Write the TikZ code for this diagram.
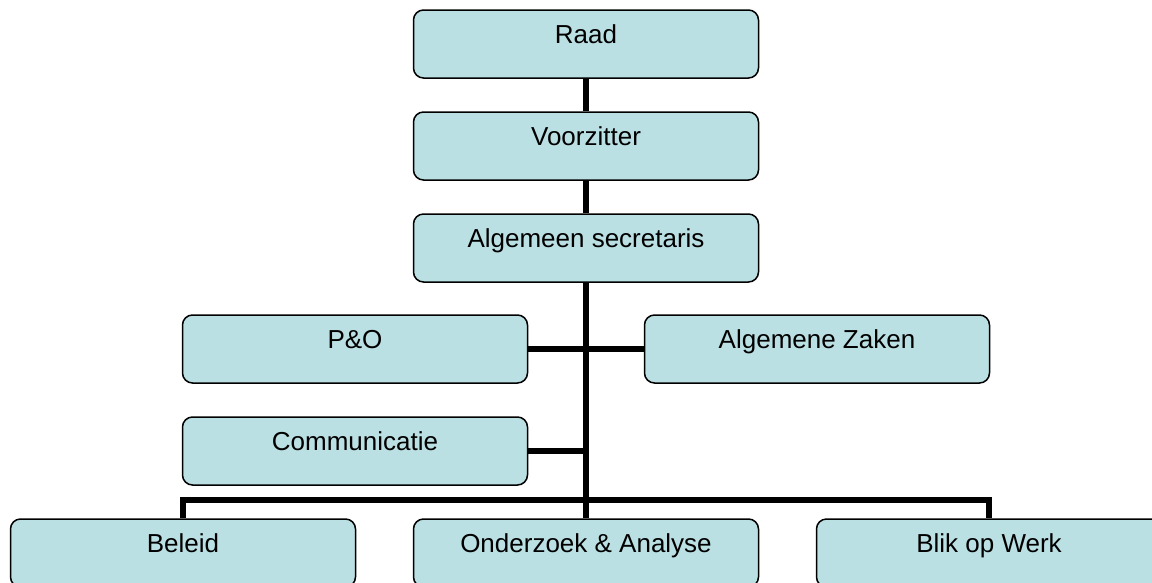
\documentclass[tikz,border=0pt]{standalone}
\usepackage{fontspec}
\setmainfont{Liberation Sans}
\definecolor{boxblue}{RGB}{187,224,228}
\begin{document}
\begin{tikzpicture}[x=1pt,y=1pt,
    unit/.style={draw,rectangle,rounded corners=10pt,fill=boxblue,line width=1.5pt,
      minimum width=345pt,inner sep=0pt,text height=33pt,text depth=35pt,
      font=\fontsize{26}{30}\selectfont},
    link/.style={line width=6pt}]
  \useasboundingbox (0,0) rectangle (1152,-582);
  \node[unit] (raad) at (586,-44) {Raad};
  \node[unit,below of=raad,node distance=102pt] (vz) {Voorzitter};
  \node[unit,below of=vz,node distance=102pt] (sec) {Algemeen secretaris};
  \node[unit] (po) at (355,-349) {P\&O};
  \node[unit,right of=po,node distance=462pt] (az) {Algemene Zaken};
  \node[unit,below of=po,node distance=102pt] (comm) {Communicatie};
  \node[unit,below of=sec,node distance=305pt] (oa) {Onderzoek \& Analyse};
  \node[unit,left of=oa,node distance=403pt] (bel) {Beleid};
  \node[unit,right of=oa,node distance=403pt] (bow) {Blik op Werk};
  \coordinate (bus) at (586,-500);
  \draw[link] (raad) to (vz);
  \draw[link] (vz) to (sec);
  \draw[link] (sec) to (oa);
  \draw[link] (po.east) to (az.west);
  \draw[link] (comm.east) to (comm.east -| sec.south);
  \draw[link] (bel.north) |- (bus) -| (bow.north);
\end{tikzpicture}
\end{document}
